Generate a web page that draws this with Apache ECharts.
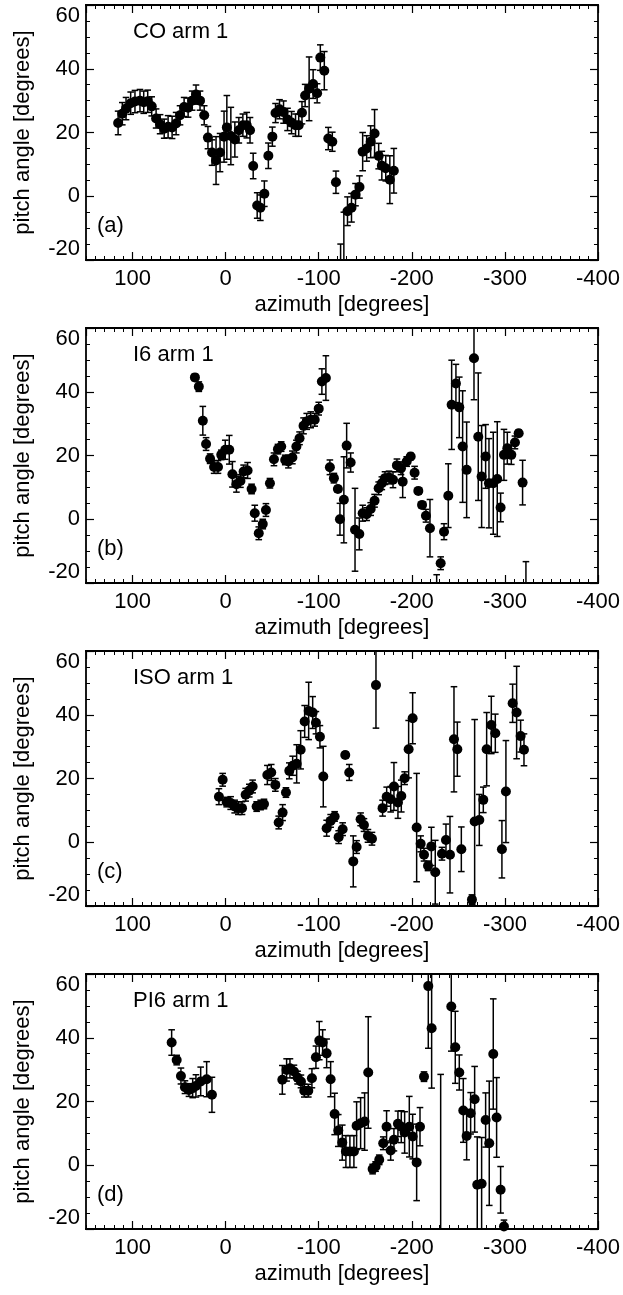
<!DOCTYPE html>
<html>
<head>
<meta charset="utf-8">
<script src="https://cdn.jsdelivr.net/npm/echarts@6/dist/echarts.min.js"></script>
<style>
html,body{margin:0;padding:0;background:#fff;}
#chart{width:623px;height:1295px;}
</style>
</head>
<body>
<div id="chart"></div>
<script>
// ---------- data (azimuth [deg], pitch angle [deg], error [deg]) ----------
const panelNames = ['CO arm 1', 'I6 arm 1', 'ISO arm 1', 'PI6 arm 1'];
const panelTags = ['(a)', '(b)', '(c)', '(d)'];
const xAxisTitle = 'azimuth [degrees]';
const yAxisTitle = 'pitch angle [degrees]';

const azimuthA = [115.5,111,107,102,97.4,92,88,83.7,79.4,74.7,70.4,66,61.8,57.5,53.2,49,44.6,40.3,36,31.8,27.5,23,19,14.6,10.3,6,1.7,-1.3,-5.6,-9.9,-14.2,-18.5,-22.7,-26.2,-29.6,-33.9,-37.3,-41.6,-45.9,-50.2,-53.6,-57.9,-62.2,-66.5,-70.8,-75.1,-78.5,-82,-85.4,-89.7,-94,-98.3,-101.7,-106,-110.3,-114.6,-118.5,-123.5,-127,-130.9,-135.2,-139.5,-143.8,-147.2,-151.5,-155.8,-160,-164.4,-167.8,-172,-176.4,-180.7];
const pitchA   = [23.0,25.9,27.5,29.2,29.7,30.0,29.5,29.8,28.2,24.4,22.6,21.2,21.8,21.6,22.8,25.4,28.0,27.8,30.0,31.9,30.0,25.4,18.4,13.7,11.2,13.7,18.7,21.6,18.9,17.8,20.7,22.3,22.3,20.7,9.5,-2.9,-3.6,0.8,12.7,18.7,26.1,27.3,26.4,24.1,23.1,22.3,22.3,26.2,31.6,33.7,35.2,32.3,43.5,39.4,18.1,17.1,4.4,-25,-30,-4.7,-3.6,0.5,2.9,14.0,15.0,17.1,19.7,12.6,9.6,8.8,5.2,8.0];
const errorA   = [3.7,3.5,3.5,3.5,3.5,3.5,3.5,3.5,3.0,3.0,3.0,3.0,3.5,3.5,3.5,3.0,3.0,3.0,3.0,3.0,3.0,3.0,3.5,4.0,7.5,6.0,8.0,10.0,9.0,5.5,4.0,3.5,4.0,4.0,4.0,4.0,4.0,4.0,4.0,3.0,3.0,3.0,3.5,3.5,3.5,3.5,3.5,3.5,3.5,10.0,4.5,3.0,4.0,6.0,3.5,3.0,3.5,10,25,4.5,4.5,3.5,3.5,6.0,4.0,5.0,7.5,4.0,4.5,4.0,7.5,7.0];

const azimuthB = [33,28.8,24.5,21,16.7,12.4,8.2,4.7,0.4,-3.9,-7.3,-11.6,-15.9,-19.3,-23.6,-27.9,-31.3,-35.6,-39.9,-43.3,-47.6,-51.9,-56.2,-59.7,-64,-67.4,-71.7,-76,-79.4,-83.7,-87.1,-91.4,-95.7,-100,-103.4,-107.7,-112,-116.3,-120.6,-122.8,-127,-130,-134.3,-139,-143.6,-147.2,-151.5,-155.8,-160,-164.4,-167.8,-171.2,-175.5,-179.8,-184,-188.4,-190.2,-194.5,-198.8,-203,-207,-211,-215.2,-219.5,-226.7,-231,-234.6,-239.2,-242.8,-247.4,-251,-254.6,-258.9,-266.8,-271.4,-275,-279.3,-282.9,-287.5,-291.8,-295.4,-299,-302.6,-306.9,-310.8,-314.8,-319,-322.6];
const pitchB   = [44.5,41.6,30.9,23.6,19.0,16.4,16.4,20.2,21.8,21.8,14.1,11.0,12.0,15.0,15.3,9.5,1.9,-4.4,-1.5,2.9,11.3,18.8,22.0,22.8,18.6,18.1,19.4,22.8,25.4,29.3,30.7,31.2,31.2,34.7,43.2,44.3,16.3,12.9,9.5,0.0,6.1,23.1,17.8,-3.3,-4.6,1.9,1.6,3.2,5.8,9.7,11.3,12.9,13.1,12.4,16.9,16.0,11.8,18.1,19.7,14.6,8.9,4.5,1.1,-2.8,-26,-13.8,-3.9,7.4,35.9,42.6,35.1,22.8,15.5,50.5,25.9,13.4,19.7,11.3,11.3,12.6,3.7,20.2,22.3,20.2,24.1,27.0,11.5,-25];
const errorB   = [1.0,1.5,4.5,2.0,1.5,2.0,2.0,1.5,3.0,4.5,4.0,2.5,2.0,2.0,2.5,1.5,2.5,2.0,1.5,2.0,1.5,2.0,1.5,1.5,1.5,2.0,2.0,2.0,2.0,2.5,2.5,2.5,2.0,2.0,4.0,7.0,2.3,1.5,1.0,5.0,13.5,7.0,3.0,13,5,2.5,2.0,2.0,2.0,2.0,2.0,2.0,2.0,2.5,2.0,2.0,5.0,1.5,1.0,2.0,1.0,1.0,2.0,9.0,8.6,2.0,2.5,10,14,6,9.5,17.5,15,13,20,16,10,14,16,18,4.5,8,5,3,2,1,7,11.7];

const azimuthC = [7.2,3.2,-1.1,-5.4,-9.7,-13.6,-17.6,-21.5,-25.4,-29,-33.3,-37.6,-41.2,-44.8,-49,-53.4,-57,-61.2,-64.8,-68.4,-72,-76.3,-80.6,-84.9,-89.2,-93.5,-97,-101.3,-104.9,-108.5,-112.8,-117.1,-121.4,-125.7,-128.5,-132.8,-137.1,-140.7,-145,-148.6,-152.9,-157.2,-161.5,-168.6,-173,-177.3,-180.8,-185.1,-188.7,-192.3,-196.6,-200.9,-205.2,-209.5,-213.1,-217.4,-221,-225.2,-232.4,-236.7,-241,-245.3,-248.9,-253.2,-264.6,-267.5,-272.5,-276.8,-280.4,-285.4,-289.7,-296.8,-301.1,-308.3,-312.6,-316.9,-320.5];
const pitchC   = [14.3,19.6,12.6,12.3,11.2,10.7,10.7,14.9,16.2,17.5,11.2,11.7,12.0,21.1,21.9,18.0,6.2,9.3,15.6,22.4,24.0,24.6,29.0,37.9,41.2,40.7,37.5,33.1,20.6,4.4,6.7,8.1,1.6,4.1,27.4,21.9,-6.0,-1.5,7.2,5.4,2.0,1.1,49.3,10.7,14.3,13.5,17.5,12.5,14.5,20.1,29.2,38.9,4.6,-0.5,-3.9,-7.4,-1.3,-9.4,-3.6,0.7,-3.9,32.3,29.2,-2.2,-18.0,6.5,7.0,13.3,29.2,36.8,34.2,-2.2,15.9,43.6,40.7,33.3,29.0];
const errorC   = [2.5,2.0,1.5,2.0,2.0,2.0,2.0,2.0,2.0,2.0,1.5,1.5,1.5,3.0,2.5,2.0,2.0,2.5,1.5,2.5,3.0,6.0,6.0,5.0,9.0,5.0,3.5,3.5,9.5,2.5,2.0,1.5,2.0,2.0,1.0,2.5,8.0,2.0,2.0,2.0,2.0,2.0,13.5,2.5,3.0,4.0,7.5,5.0,5.0,2.0,9.0,8.0,17,2.5,2.0,1.5,6.0,10,2.0,5.0,12,16.5,8.5,7.0,1.5,32,8,4,11.5,9,6,9,16,6,14.5,5,5];

const azimuthD = [58,52.6,48,43.7,39.4,35.4,31.9,26.8,20.4,14.7,-60.9,-65.5,-69.1,-73.4,-77.3,-80.9,-84.5,-88.8,-92.7,-97,-100.6,-104.2,-108.5,-112.8,-117.1,-121,-125.3,-129.2,-133.5,-137.8,-140.7,-145,-149.3,-153.2,-157.9,-161.1,-165,-169.3,-172.9,-177.3,-180.8,-185.1,-188.7,-192.3,-197.3,-200.9,-205.2,-208.8,-213.1,-217.7,-221.3,-231,-242.4,-246.7,-251,-255.3,-258.9,-263.2,-267.5,-270.3,-275,-279.3,-283.2,-287.5,-291.1,-295.4,-299];
const pitchD   = [38.5,33.0,28.0,24.5,23.6,24.2,24.9,26.3,27.0,22.1,26.8,29.9,30.4,29.4,27.5,26.3,23.4,23.4,27.3,33.9,39.1,38.5,35.1,27.0,16.1,10.9,7.1,4.3,4.3,4.3,12.4,13.2,13.7,29.1,-1.2,-0.4,1.7,6.9,12.1,4.6,8.0,13.0,12.1,10.3,12.1,9.0,0.9,12.1,27.8,56.2,43.0,-25,49.8,37.0,29.1,17.2,9.2,16.3,20.7,-6.1,-5.8,14.2,6.9,34.9,15.0,-7.7,-19.2];
const errorD   = [4.0,1.5,2.5,2.0,2.0,3.0,3.5,4.5,5.5,5.5,4.5,3.5,3.0,2.0,2.0,2.0,2.0,2.0,3.0,3.5,6.0,4.0,4.5,5.5,6.5,5.0,5.5,5.0,5.0,5.0,7.5,8.0,9.0,17.5,1.5,1.5,1.5,2.0,5.0,3.0,3.5,4.0,5.0,6.5,9.5,7.0,12,6.0,1.5,19.5,18.8,53.5,14,11.3,5.5,10,7.5,6.5,10.3,15,14.5,8.5,19.5,17.3,12.5,7.3,2.0];

const panels = [
  [azimuthA, pitchA, errorA],
  [azimuthB, pitchB, errorB],
  [azimuthC, pitchC, errorC],
  [azimuthD, pitchD, errorD]
];

// ---------- layout / style ----------
const FONT = 'Liberation Sans';
const FS = 22;
const gridTops = [5, 328, 651, 974];
const gridLeft = 86, gridWidth = 512, gridHeight = 255;
const black = '#000';

const grids = [], xAxes = [], yAxes = [], series = [], graphics = [];

function renderErr(params, api) {
  const x = api.value(0), lo = api.value(1), hi = api.value(2);
  const pHi = api.coord([x, hi]);
  const pLo = api.coord([x, lo]);
  const w = 3.3;
  const st = {stroke: black, lineWidth: 1.5, fill: null};
  return {
    type: 'group',
    children: [
      {type: 'line', shape: {x1: pHi[0], y1: pHi[1], x2: pLo[0], y2: pLo[1]}, style: st},
      {type: 'line', shape: {x1: pHi[0] - w, y1: pHi[1], x2: pHi[0] + w, y2: pHi[1]}, style: st},
      {type: 'line', shape: {x1: pLo[0] - w, y1: pLo[1], x2: pLo[0] + w, y2: pLo[1]}, style: st}
    ]
  };
}

panels.forEach(function (p, i) {
  const az = p[0], pa = p[1], er = p[2];
  grids.push({left: gridLeft, width: gridWidth, top: gridTops[i], height: gridHeight});
  const baseX = {
    type: 'value', gridIndex: i, inverse: true, min: -400, max: 150,
    splitLine: {show: false},
    axisLine: {show: true, onZero: false, lineStyle: {color: black, width: 1.8}},
    axisTick: {show: true, inside: true, length: 8, lineStyle: {color: black, width: 1.2}},
    axisLabel: {show: false}
  };
  xAxes.push(Object.assign({}, baseX, {
    position: 'bottom', interval: 100,
    axisLabel: {show: true, color: black, fontSize: FS, fontFamily: FONT, margin: 8, showMaxLabel: false, showMinLabel: true},
    name: xAxisTitle, nameLocation: 'middle', nameGap: 34,
    nameTextStyle: {color: black, fontSize: FS, fontFamily: FONT}
  }));
  xAxes.push(Object.assign({}, baseX, {position: 'top', interval: 100}));
  xAxes.push(Object.assign({}, baseX, {position: 'bottom', interval: 10,
    axisTick: {show: true, inside: true, length: 4, lineStyle: {color: black, width: 1}}}));
  xAxes.push(Object.assign({}, baseX, {position: 'top', interval: 10,
    axisTick: {show: true, inside: true, length: 4, lineStyle: {color: black, width: 1}}}));

  const baseY = {
    type: 'value', gridIndex: i, min: -20, max: 60, interval: 20,
    splitLine: {show: false},
    axisLine: {show: true, onZero: false, lineStyle: {color: black, width: 1.8}},
    axisTick: {show: true, inside: true, length: 8, lineStyle: {color: black, width: 1.2}},
    minorTick: {show: true, splitNumber: 4, length: 4, lineStyle: {color: black, width: 1}},
    minorSplitLine: {show: false},
    axisLabel: {show: false}
  };
  yAxes.push(Object.assign({}, baseY, {
    position: 'left',
    axisLabel: {show: true, color: black, fontSize: FS, fontFamily: FONT, margin: 6,
      verticalAlignMinLabel: 'bottom', verticalAlignMaxLabel: 'top'},
    name: yAxisTitle, nameLocation: 'middle', nameGap: 52,
    nameTextStyle: {color: black, fontSize: FS, fontFamily: FONT}
  }));
  yAxes.push(Object.assign({}, baseY, {position: 'right'}));

  const errData = az.map(function (x, k) { return [x, pa[k] - er[k], pa[k] + er[k]]; });
  const ptData = az.map(function (x, k) { return [x, pa[k]]; });

  series.push({
    type: 'custom', xAxisIndex: i * 4, yAxisIndex: i * 2,
    renderItem: renderErr, data: errData, clip: true,
    encode: {x: 0, y: [1, 2]}, silent: true, animation: false
  });
  series.push({
    type: 'scatter', xAxisIndex: i * 4, yAxisIndex: i * 2,
    data: ptData, symbol: 'circle', symbolSize: 10, clip: true,
    itemStyle: {color: black, opacity: 1}, silent: true, animation: false
  });

  graphics.push({type: 'text', left: 133, top: gridTops[i] + 16,
    style: {text: panelNames[i], fontSize: FS, fontFamily: FONT, fill: black}});
  graphics.push({type: 'text', left: 97, top: gridTops[i] + 210,
    style: {text: panelTags[i], fontSize: FS, fontFamily: FONT, fill: black}});
});

const chart = echarts.init(document.getElementById('chart'), null, {renderer: 'canvas'});
chart.setOption({
  animation: false,
  backgroundColor: '#fff',
  grid: grids,
  xAxis: xAxes,
  yAxis: yAxes,
  series: series,
  graphic: graphics
});
</script>
</body>
</html>
